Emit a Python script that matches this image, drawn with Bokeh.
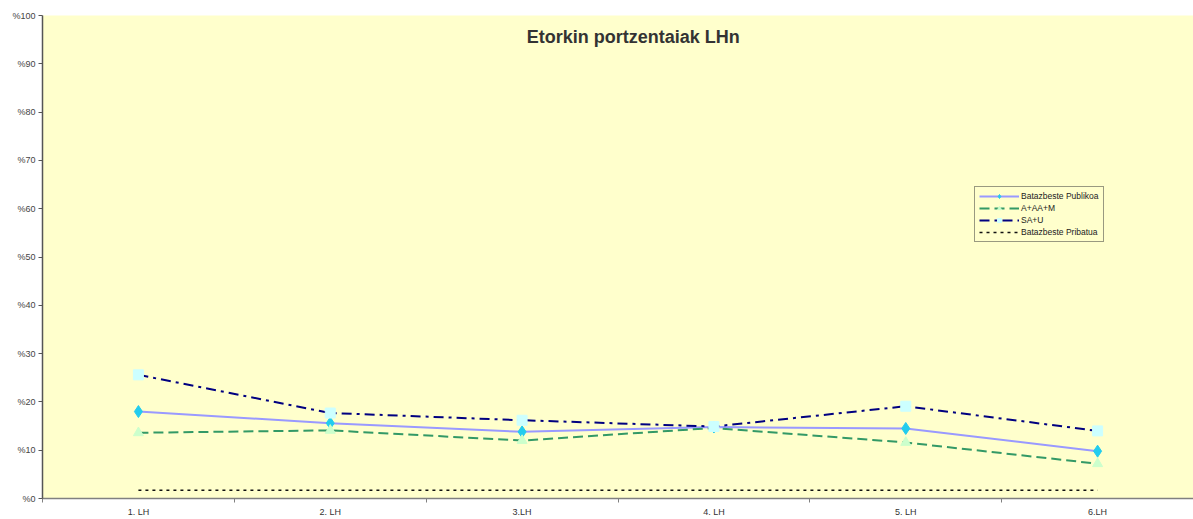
from bokeh.plotting import figure
from bokeh.models import FixedTicker, Legend, LegendItem, Label, Range1d
from bokeh.embed import file_html
from bokeh.resources import INLINE

categories = ["1. LH", "2. LH", "3.LH", "4. LH", "5. LH", "6.LH"]
publikoa = [18.0, 15.6, 13.8, 14.8, 14.5, 9.8]
a_aa_m = [13.6, 14.1, 12.0, 14.6, 11.6, 7.2]
sa_u = [25.6, 17.7, 16.2, 14.9, 19.1, 14.0]
pribatua = [1.7, 1.7, 1.7, 1.7, 1.7, 1.7]
y_ticks = [0, 10, 20, 30, 40, 50, 60, 70, 80, 90, 100]
title_text = "Etorkin portzentaiak LHn"

xs = [i + 0.5 for i in range(len(categories))]

FONT = "Liberation Sans"

p = figure(width=1193, height=519, output_backend="svg", toolbar_location=None,
           x_range=Range1d(0, len(categories)), y_range=Range1d(0, 100),
           min_border_left=42, min_border_right=0, min_border_top=15, min_border_bottom=20)
p.background_fill_color = "#FFFFCC"
p.border_fill_color = "white"
p.outline_line_color = None
p.grid.visible = False

# x axis
p.xaxis.ticker = FixedTicker(ticks=xs, minor_ticks=list(range(len(categories) + 1)))
p.xaxis.major_label_overrides = {x: c for x, c in zip(xs, categories)}
p.xaxis.major_tick_line_color = None
p.xaxis.major_tick_out = 0
p.xaxis.major_tick_in = 0
p.xaxis.minor_tick_out = 4
p.xaxis.minor_tick_in = 0
p.xaxis.minor_tick_line_color = "#808080"
p.xaxis.axis_line_color = "#808080"
p.xaxis.axis_line_width = 1.5
p.xaxis.major_label_text_font = FONT
p.xaxis.major_label_text_font_size = "9px"
p.xaxis.major_label_text_color = "#333333"
p.xaxis.major_label_standoff = 4

# y axis
p.yaxis.ticker = FixedTicker(ticks=y_ticks, minor_ticks=[])
p.yaxis.major_label_overrides = {v: f"%{v}" for v in y_ticks}
p.yaxis.major_tick_out = 4
p.yaxis.major_tick_in = 0
p.yaxis.major_tick_line_color = "#555555"
p.yaxis.axis_line_color = "#555555"
p.yaxis.axis_line_width = 1.5
p.yaxis.major_label_text_font = FONT
p.yaxis.major_label_text_font_size = "9px"
p.yaxis.major_label_text_color = "#444444"
p.yaxis.major_label_standoff = 3

# series
l1 = p.line(xs, publikoa, line_color="#9999FF", line_width=2)
m1 = p.scatter(xs, publikoa, marker="diamond", size=12, fill_color="#22CCEE", line_color="#22CCEE")

l2 = p.line(xs, a_aa_m, line_color="#339966", line_width=2, line_dash="10 5")
m2 = p.scatter(xs, a_aa_m, marker="triangle", size=10, fill_color="#CCFFCC", line_color="#CCFFCC")

l3 = p.line(xs, sa_u, line_color="#000080", line_width=2, line_dash="10 5 3 5")
m3 = p.scatter(xs, sa_u, marker="square", size=10, fill_color="#CCFFFF", line_color="#CCFFFF")

l4 = p.line(xs, pribatua, line_color="#111111", line_width=1.5, line_dash="3 4")

legend = Legend(items=[
    LegendItem(label="Batazbeste Publikoa", renderers=[l1, m1]),
    LegendItem(label="A+AA+M", renderers=[l2, m2]),
    LegendItem(label="SA+U", renderers=[l3, m3]),
    LegendItem(label="Batazbeste Pribatua", renderers=[l4]),
], location=(932, 256))
legend.label_text_font = FONT
legend.label_text_font_size = "8.5px"
legend.label_text_color = "#222222"
legend.label_height = 10
legend.glyph_height = 10
legend.glyph_width = 40
legend.spacing = 2
legend.padding = 4
legend.margin = 0
legend.label_standoff = 2
legend.border_line_color = "#333333"
legend.border_line_width = 1
legend.background_fill_color = "#FFFFCC"
legend.background_fill_alpha = 1
p.add_layout(legend)

title = Label(x=3.08, y=95.45, text=title_text, text_align="center", text_baseline="middle",
              text_font=FONT, text_font_size="18px", text_font_style="bold", text_color="#333333")
p.add_layout(title)

open("out.html", "w").write(file_html(p, INLINE))
